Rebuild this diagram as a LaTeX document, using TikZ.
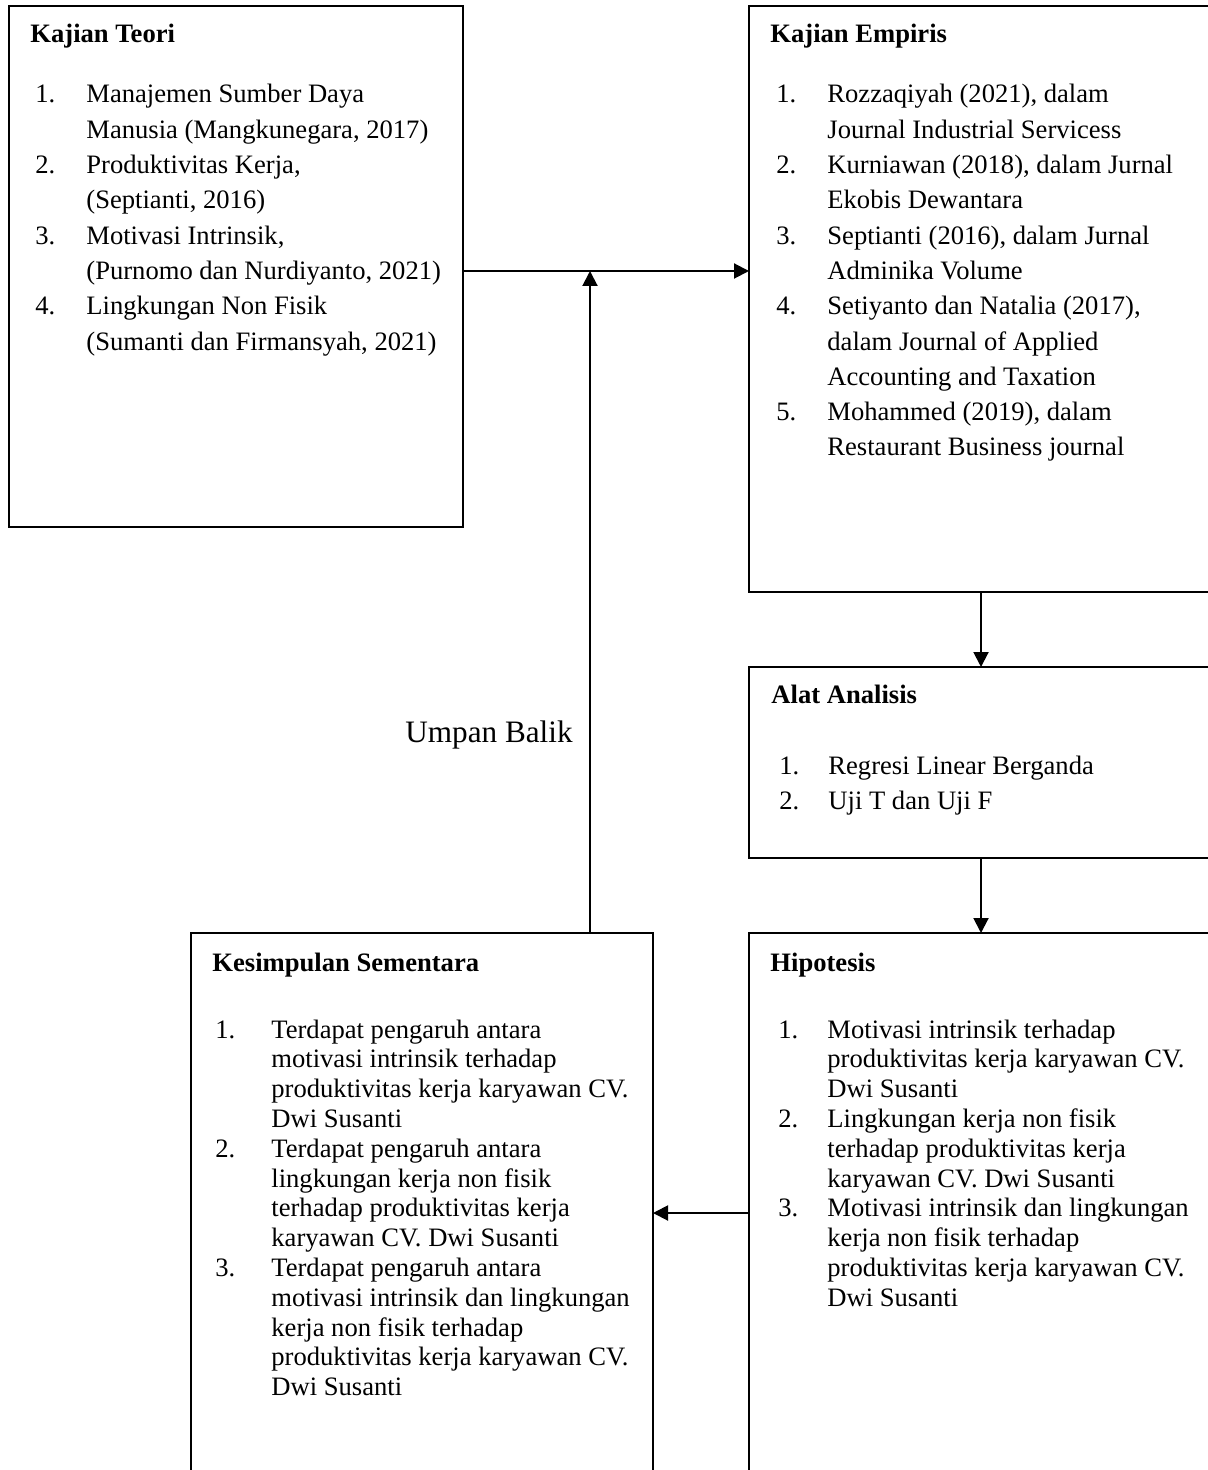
\documentclass[tikz,border=0pt]{standalone}
\usepackage{fontspec}
\setmainfont{Liberation Serif}
\usetikzlibrary{arrows.meta}

\newcommand{\boxfont}{\fontsize{13.3}{17.65}\selectfont}
\newcommand{\rapatfont}{\fontsize{13.3}{14.9}\selectfont}
\newcommand{\notefont}{\fontsize{15.6}{18}\selectfont}

\tikzset{
  frame/.style={draw, line width=0.75pt, anchor=north west, inner sep=0pt, outer sep=0pt},
  heading/.style={anchor=base west, inner sep=0pt, font=\boxfont\bfseries},
  entries/.style={anchor=base west, inner sep=0pt, font=\boxfont},
  link/.style={line width=1pt, -{Triangle[length=7.5pt,width=7.5pt]}},
}

\begin{document}
\begin{tikzpicture}[x=0.5pt, y=-0.5pt]
  \useasboundingbox (0,0) rectangle (1208,1470);

  % boxes
  \node[frame, minimum width=227pt, minimum height=260.5pt] (teori) at (9,6) {};
  \node[frame, minimum width=232pt, minimum height=293pt] (empiris) at (749,6) {};
  \node[frame, minimum width=232pt, minimum height=95.5pt] (alat) at (749,667) {};
  \node[frame, minimum width=232pt, minimum height=280pt] (hipotesis) at (749,933) {};
  \node[frame, minimum width=231pt, minimum height=280pt] (kesimpulan) at (191,933) {};

  % Kajian Teori
  \node[heading] (teorijudul) at (30,43) {Kajian Teori};
  \node[entries] (teoriisi) at (35,103) {\begin{tabular}[t]{@{}p{25.5pt}@{}l@{}}
    1. & Manajemen Sumber Daya\\
       & Manusia (Mangkunegara, 2017)\\
    2. & Produktivitas Kerja,\\
       & (Septianti, 2016)\\
    3. & Motivasi Intrinsik,\\
       & (Purnomo dan Nurdiyanto, 2021)\\
    4. & Lingkungan Non Fisik\\
       & (Sumanti dan Firmansyah, 2021)
  \end{tabular}};

  % Kajian Empiris
  \node[heading] (empirisjudul) at (770,43) {Kajian Empiris};
  \node[entries] (empirisisi) at (776,103) {\begin{tabular}[t]{@{}p{25.5pt}@{}l@{}}
    1. & Rozzaqiyah (2021), dalam\\
       & Journal Industrial Servicess\\
    2. & Kurniawan (2018), dalam Jurnal\\
       & Ekobis Dewantara\\
    3. & Septianti (2016), dalam Jurnal\\
       & Adminika Volume\\
    4. & Setiyanto dan Natalia (2017),\\
       & dalam Journal of Applied\\
       & Accounting and Taxation\\
    5. & Mohammed (2019), dalam\\
       & Restaurant Business journal
  \end{tabular}};

  % Alat Analisis
  \node[heading] (alatjudul) at (771,703) {Alat Analisis};
  \node[entries] (alatisi) at (779,774) {\begin{tabular}[t]{@{}p{24.5pt}@{}l@{}}
    1. & Regresi Linear Berganda\\
    2. & Uji T dan Uji F
  \end{tabular}};

  % Hipotesis
  \node[heading] (hipotesisjudul) at (770,971) {Hipotesis};
  \node[entries, font=\rapatfont] (hipotesisisi) at (778,1038) {\begin{tabular}[t]{@{}p{24.5pt}@{}l@{}}
    1. & Motivasi intrinsik terhadap\\
       & produktivitas kerja karyawan CV.\\
       & Dwi Susanti\\
    2. & Lingkungan kerja non fisik\\
       & terhadap produktivitas kerja\\
       & karyawan CV. Dwi Susanti\\
    3. & Motivasi intrinsik dan lingkungan\\
       & kerja non fisik terhadap\\
       & produktivitas kerja karyawan CV.\\
       & Dwi Susanti
  \end{tabular}};

  % Kesimpulan Sementara
  \node[heading] (kesimpulanjudul) at (212,971) {Kesimpulan Sementara};
  \node[entries, font=\rapatfont] (kesimpulanisi) at (215,1038) {\begin{tabular}[t]{@{}p{28pt}@{}l@{}}
    1. & Terdapat pengaruh antara\\
       & motivasi intrinsik terhadap\\
       & produktivitas kerja karyawan CV.\\
       & Dwi Susanti\\
    2. & Terdapat pengaruh antara\\
       & lingkungan kerja non fisik\\
       & terhadap produktivitas kerja\\
       & karyawan CV. Dwi Susanti\\
    3. & Terdapat pengaruh antara\\
       & motivasi intrinsik dan lingkungan\\
       & kerja non fisik terhadap\\
       & produktivitas kerja karyawan CV.\\
       & Dwi Susanti
  \end{tabular}};

  % connectors
  \coordinate (balik) at (590,271);
  \draw[link] (teori.east |- balik) -- (empiris.west |- balik);
  \draw[link] (kesimpulan.north -| balik) -- (balik);
  \draw[link] (empiris.south) -- (alat.north);
  \draw[link] (alat.south) -- (hipotesis.north);
  \draw[link] (hipotesis.west) -- (kesimpulan.east);

  \node[anchor=base west, inner sep=0pt, font=\notefont] (umpanbalik) at (405,742) {Umpan Balik};
\end{tikzpicture}
\end{document}
